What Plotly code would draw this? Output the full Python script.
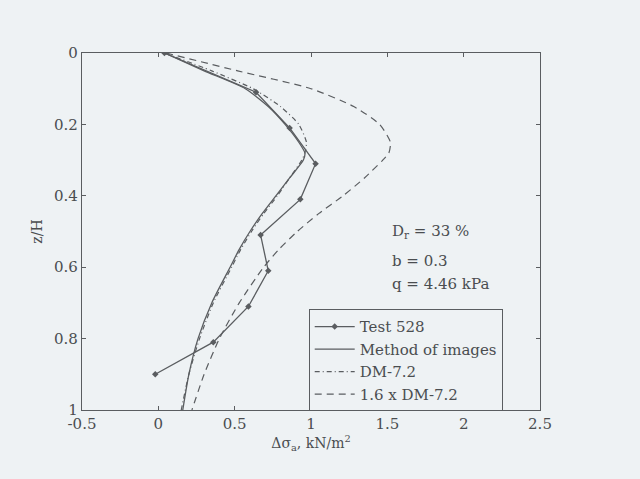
import plotly.graph_objects as go

# z/H depths
depth = [0.0, 0.05, 0.1, 0.15, 0.2, 0.25, 0.28, 0.3, 0.35, 0.4, 0.45, 0.5, 0.55, 0.6, 0.7, 0.8, 0.9, 1.0]

method_images = [0.04, 0.30, 0.57, 0.72, 0.83, 0.92, 0.96, 0.95, 0.86, 0.77, 0.68, 0.60, 0.53, 0.47, 0.35, 0.26, 0.20, 0.16]
dm72 = [0.04, 0.35, 0.62, 0.80, 0.92, 0.97, 0.96, 0.94, 0.86, 0.78, 0.69, 0.61, 0.54, 0.48, 0.36, 0.27, 0.20, 0.15]
dm72_x16 = [0.05, 0.52, 1.0, 1.28, 1.45, 1.52, 1.51, 1.47, 1.35, 1.21, 1.05, 0.91, 0.79, 0.69, 0.53, 0.40, 0.30, 0.22]

test_depth = [0.0, 0.11, 0.21, 0.31, 0.41, 0.51, 0.61, 0.71, 0.81, 0.90]
test_528 = [0.04, 0.64, 0.86, 1.03, 0.93, 0.67, 0.72, 0.59, 0.36, -0.02]

x_ticks = [-0.5, 0, 0.5, 1, 1.5, 2, 2.5]
x_tick_text = ["-0.5", "0", "0.5", "1", "1.5", "2", "2.5"]
y_ticks = [0, 0.2, 0.4, 0.6, 0.8, 1]
y_tick_text = ["0", "0.2", "0.4", "0.6", "0.8", "1"]

ink = "#5a5d60"
txt_col = "#4a4d50"
bg = "#eef2f4"
font_family = "DejaVu Serif, Liberation Serif, serif"

fig = go.Figure()
fig.add_trace(go.Scatter(x=test_528, y=test_depth, mode="lines+markers", name="Test 528",
                         line=dict(color=ink, width=1.3),
                         marker=dict(symbol="diamond", size=5, color=ink)))
fig.add_trace(go.Scatter(x=method_images, y=depth, mode="lines", name="Method of images",
                         line=dict(color=ink, width=1.3, shape="spline", smoothing=0.6)))
fig.add_trace(go.Scatter(x=dm72, y=depth, mode="lines", name="DM-7.2",
                         line=dict(color=ink, width=1.2, dash="5px,3px,1px,3px", shape="spline", smoothing=0.6)))
fig.add_trace(go.Scatter(x=dm72_x16, y=depth, mode="lines", name="1.6 x DM-7.2",
                         line=dict(color=ink, width=1.2, dash="7px,5px", shape="spline", smoothing=0.6)))

fig.update_layout(
    width=640, height=479,
    margin=dict(l=82, r=100, t=53, b=69),
    paper_bgcolor=bg, plot_bgcolor=bg,
    font=dict(family=font_family, size=14, color=txt_col),
    showlegend=True,
    legend=dict(x=0.495, y=0.282, xanchor="left", yanchor="top",
                bgcolor=bg, bordercolor=ink, borderwidth=1,
                font=dict(family=font_family, size=15, color=txt_col),
                tracegroupgap=0, itemwidth=40),
    xaxis=dict(range=[-0.5, 2.5], tickvals=x_ticks, ticktext=x_tick_text,
               showgrid=False, zeroline=False, showline=True, linecolor=ink, linewidth=1.2,
               mirror="ticks", ticks="inside", ticklen=4, tickcolor=ink,
               tickfont=dict(family=font_family, size=15),
               title=dict(text="Δσ<sub>a</sub>, kN/m<sup>2</sup>", standoff=2,
                          font=dict(family=font_family, size=14))),
    yaxis=dict(range=[1, 0], tickvals=y_ticks, ticktext=y_tick_text,
               showgrid=False, zeroline=False, showline=True, linecolor=ink, linewidth=1.2,
               mirror="ticks", ticks="inside", ticklen=4, tickcolor=ink,
               tickfont=dict(family=font_family, size=15),
               title=dict(text="z/H", standoff=8, font=dict(family=font_family, size=14))),
)

annots = [("D<sub>r</sub> = 33 %", 0.50), ("b = 0.3", 0.418), ("q = 4.46 kPa", 0.352)]
for txt, yp in annots:
    fig.add_annotation(text=txt, x=0.672, y=yp, xref="paper", yref="paper",
                       xanchor="left", yanchor="middle", showarrow=False,
                       font=dict(family=font_family, size=15, color=txt_col))

fig.write_html("out.html",
               config={"displayModeBar": False},
               post_script="document.body.style.margin='0';document.body.style.background='%s';" % bg)
